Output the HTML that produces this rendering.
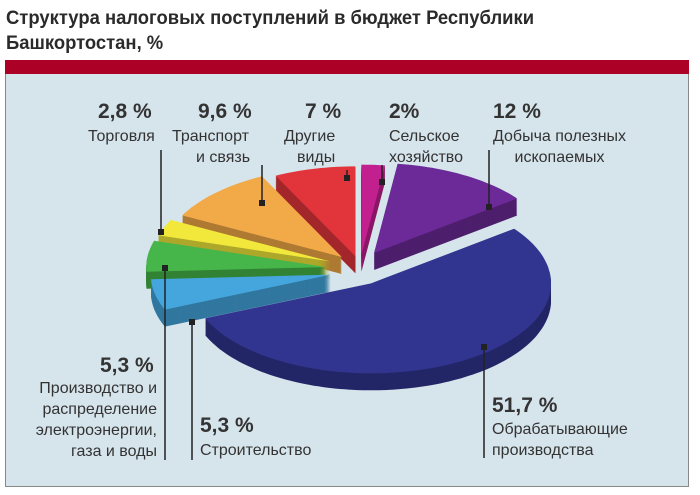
<!DOCTYPE html>
<html><head><meta charset="utf-8"><style>
body{margin:0;width:700px;height:495px;background:#fff;font-family:"Liberation Sans",sans-serif;overflow:hidden;position:relative}
.t{position:absolute;font-size:16px;color:#333;white-space:nowrap;line-height:21px}
.v{position:absolute;font-size:21px;font-weight:bold;color:#333;white-space:nowrap}
</style></head><body>
<div style="position:absolute;left:6px;top:6px;font-size:19px;font-weight:bold;line-height:25px;color:#2a2a2a;transform:scaleX(0.97);transform-origin:left">Структура налоговых поступлений в бюджет Республики<br>Башкортостан, %</div>
<div style="position:absolute;left:5px;top:60px;width:684px;height:14px;background:#ad0027"></div>
<div style="position:absolute;left:5px;top:74px;width:682px;height:412px;background:#d6e4ec;border:1px solid #888;border-top:none"></div>
<svg id="pie" width="700" height="495" style="position:absolute;left:0;top:0"></svg>
<div class="v" style="left:98px;top:100px">2,8 %</div>
<div class="t" style="left:88px;top:126px">Торговля</div>
<div class="v" style="left:198px;top:100px">9,6 %</div>
<div class="t" style="left:172px;top:126px">Транспорт<br><span style="padding-left:24px">и связь</span></div>
<div class="v" style="left:305px;top:100px">7 %</div>
<div class="t" style="left:284px;top:126px;text-align:right">Другие<br>виды</div>
<div class="v" style="left:389px;top:100px">2%</div>
<div class="t" style="left:389px;top:126px">Сельское<br>хозяйство</div>
<div class="v" style="left:493px;top:100px">12 %</div>
<div class="t" style="left:493px;top:126px;text-align:center">Добыча полезных<br>ископаемых</div>
<div class="v" style="left:100px;top:354px">5,3 %</div>
<div class="t" style="right:543px;top:378px;text-align:right">Производство и<br>распределение<br>электроэнергии,<br>газа и воды</div>
<div class="v" style="left:200px;top:414px">5,3 %</div>
<div class="t" style="left:200px;top:440px">Строительство</div>
<div class="v" style="left:492px;top:394px">51,7 %</div>
<div class="t" style="left:492px;top:419px">Обрабатывающие<br>производства</div>
<script>
const categories=["Сельское хозяйство","Добыча полезных ископаемых","Обрабатывающие производства","Строительство","Производство и распределение","Торговля","Транспорт и связь","Другие виды"];
const values=[2,12,51.7,5.3,5.3,2.8,9.6,7];
const colors=["#c2208e","#6b2a97","#31358f","#45a6de","#46b54a","#f1e83b","#f2aa48","#e2353b"];
const explode=[22,28,22,30,34,32,26,20];
const names=["slice-agriculture","slice-mining","slice-manufacturing","slice-construction","slice-energy","slice-trade","slice-transport","slice-other"];
const svg=document.getElementById('pie');const NS="http://www.w3.org/2000/svg";
const cx=360,cy=270,rx=180,ry=90,depth=17;
const total=values.reduce((a,b)=>a+b,0);
function dark(h,f){const n=parseInt(h.slice(1),16);const r=(n>>16)*f|0,g=((n>>8)&255)*f|0,b=(n&255)*f|0;return `rgb(${r},${g},${b})`;}
function path(a0,a1,ox,oy){const p=[];p.push(`M${ox},${oy}`);const steps=Math.max(4,Math.ceil((a1-a0)*40));for(let i=0;i<=steps;i++){const a=a0+(a1-a0)*i/steps;p.push(`L${(ox+rx*Math.cos(a)).toFixed(1)},${(oy+ry*Math.sin(a)).toFixed(1)}`);}return p.join('')+'Z';}
let acc=0;const sl=[];
values.forEach((v,i)=>{const a0=-Math.PI/2+acc/total*2*Math.PI;acc+=v;const a1=-Math.PI/2+acc/total*2*Math.PI;const m=(a0+a1)/2;sl.push({i,a0,a1,m,ox:cx+explode[i]*Math.cos(m),oy:cy+explode[i]*0.7*Math.sin(m)});});
sl.slice().sort((a,b)=>Math.sin(a.m)-Math.sin(b.m)).forEach(s=>{
const g=document.createElementNS(NS,'g');


for(let d=depth;d>=1;d--){const e=document.createElementNS(NS,'path');e.setAttribute('d',path(s.a0,s.a1,s.ox,s.oy+d));e.setAttribute('fill',dark(colors[s.i],0.72));g.appendChild(e);}
const top=document.createElementNS(NS,'path');top.setAttribute('d',path(s.a0,s.a1,s.ox,s.oy));top.setAttribute('fill',colors[s.i]);g.appendChild(top);
svg.appendChild(g);});
const leaders=[[161,150,232],[262,165,203],[347,170,178],[382,165,182],[489,150,207],[165,268,460],[192,322,460],[484,347,458]];
leaders.forEach(l=>{const ln=document.createElementNS(NS,'line');


ln.setAttribute('x1',l[0]);ln.setAttribute('x2',l[0]);ln.setAttribute('y1',l[1]);ln.setAttribute('y2',l[2]);ln.setAttribute('stroke','#222');ln.setAttribute('stroke-width','1.5');svg.appendChild(ln);
const dot=document.createElementNS(NS,'rect');


const dy=(l[0]==165||l[0]==192||l[0]==484)?l[1]:l[2];dot.setAttribute('x',l[0]-3);dot.setAttribute('y',dy-3);dot.setAttribute('width',6);dot.setAttribute('height',6);dot.setAttribute('fill','#222');svg.appendChild(dot);});
</script>
</body></html>
